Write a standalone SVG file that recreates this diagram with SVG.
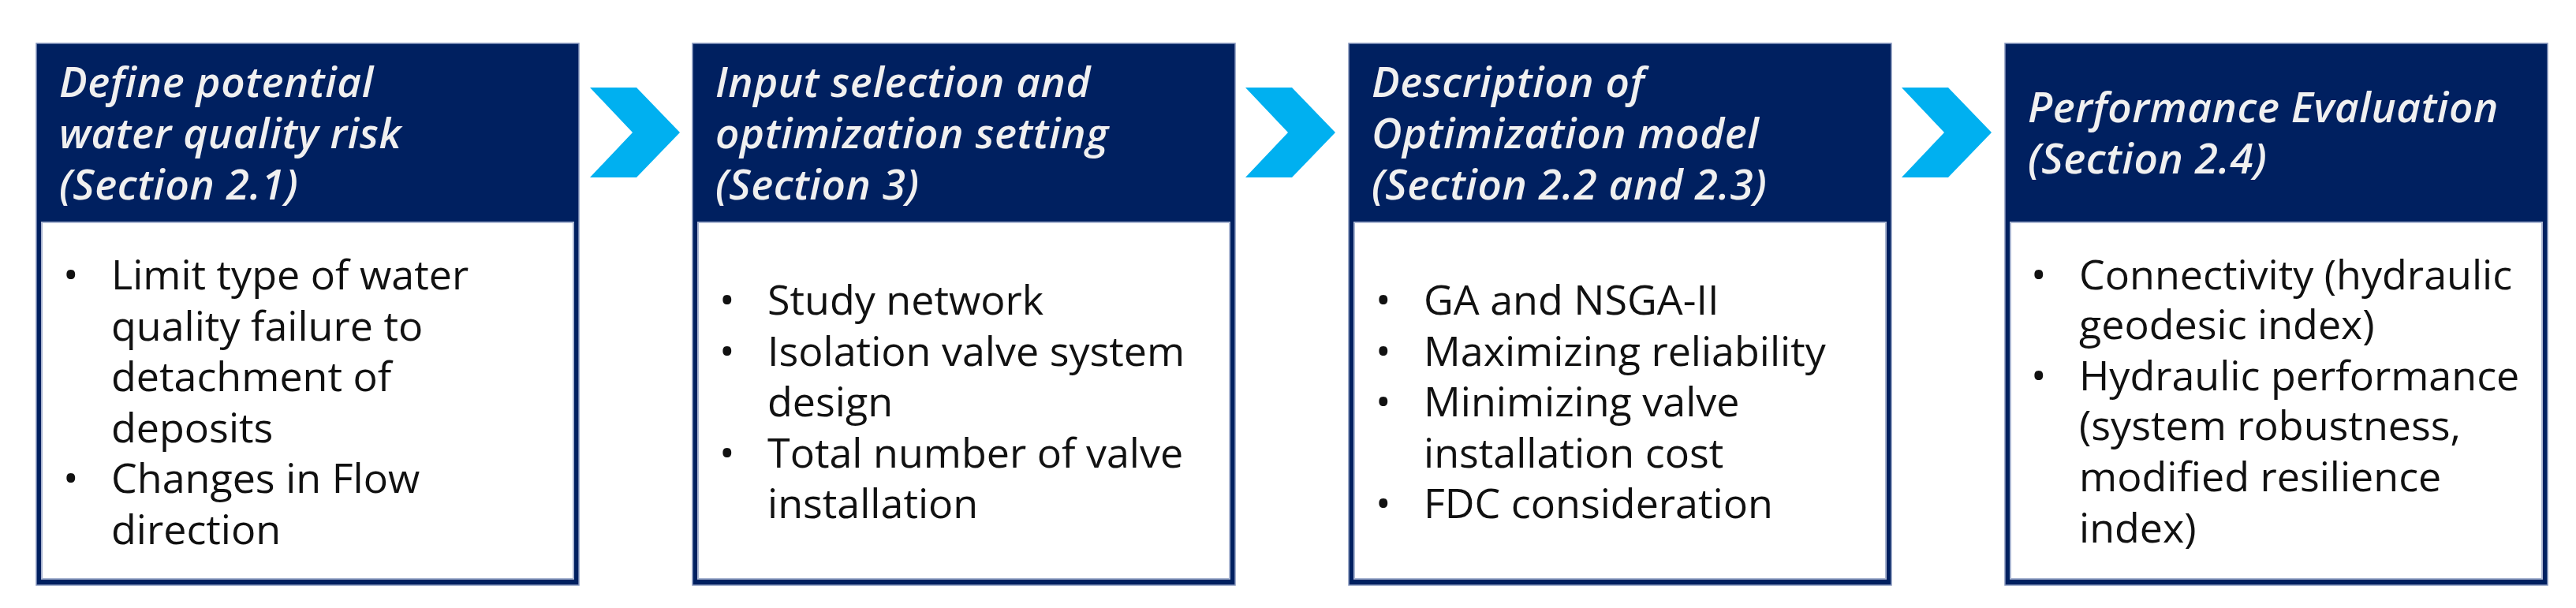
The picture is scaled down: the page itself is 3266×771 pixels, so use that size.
<svg xmlns="http://www.w3.org/2000/svg" width="3266" height="771" viewBox="0 0 3266 771">
<style>
.box{fill:#002060;stroke:#8696bd;stroke-width:1.5}
.body{fill:#ffffff;stroke:#a9b5d1;stroke-width:2}
.hd{font-family:"Open Sans","Noto Sans",sans-serif;font-style:italic;font-weight:600;font-size:53px;letter-spacing:0.6px;fill:#f0f0f0}
.tx{font-family:"Open Sans","Noto Sans",sans-serif;font-size:52px;fill:#111111}
.chev{fill:#00b0f0}
</style>
<rect width="3266" height="771" fill="#ffffff"/>
<g id="connectors">
<polygon class="chev" points="748,111 807,111 862,168 807,225 748,225 802,168"/>
<polygon class="chev" points="1579,111 1638,111 1693,168 1638,225 1579,225 1633,168"/>
<polygon class="chev" points="2411,111 2470,111 2525,168 2470,225 2411,225 2465,168"/>
</g>
<g id="node1">
<rect class="box" x="46" y="55" width="688" height="687"/>
<rect class="body" x="53" y="282" width="674" height="452"/>
<text class="hd" x="75" y="123">Define potential</text>
<text class="hd" x="75" y="188">water quality risk</text>
<text class="hd" x="75" y="253">(Section 2.1)</text>
<text class="tx" x="80" y="367">•</text>
<text class="tx" x="141" y="367">Limit type of water</text>
<text class="tx" x="141" y="432">quality failure to</text>
<text class="tx" x="141" y="496">detachment of</text>
<text class="tx" x="141" y="561">deposits</text>
<text class="tx" x="80" y="625">•</text>
<text class="tx" x="141" y="625">Changes in Flow</text>
<text class="tx" x="141" y="690">direction</text>
</g>
<g id="node2">
<rect class="box" x="878" y="55" width="688" height="687"/>
<rect class="body" x="885" y="282" width="674" height="452"/>
<text class="hd" x="907" y="123">Input selection and</text>
<text class="hd" x="907" y="188">optimization setting</text>
<text class="hd" x="907" y="253">(Section 3)</text>
<text class="tx" x="912" y="399">•</text>
<text class="tx" x="973" y="399">Study network</text>
<text class="tx" x="912" y="464">•</text>
<text class="tx" x="973" y="464">Isolation valve system</text>
<text class="tx" x="973" y="528">design</text>
<text class="tx" x="912" y="593">•</text>
<text class="tx" x="973" y="593">Total number of valve</text>
<text class="tx" x="973" y="657">installation</text>
</g>
<g id="node3">
<rect class="box" x="1710" y="55" width="688" height="687"/>
<rect class="body" x="1717" y="282" width="674" height="452"/>
<text class="hd" x="1739" y="123">Description of</text>
<text class="hd" x="1739" y="188">Optimization model</text>
<text class="hd" x="1739" y="253">(Section 2.2 and 2.3)</text>
<text class="tx" x="1744" y="399">•</text>
<text class="tx" x="1805" y="399">GA and NSGA-II</text>
<text class="tx" x="1744" y="464">•</text>
<text class="tx" x="1805" y="464">Maximizing reliability</text>
<text class="tx" x="1744" y="528">•</text>
<text class="tx" x="1805" y="528">Minimizing valve</text>
<text class="tx" x="1805" y="593">installation cost</text>
<text class="tx" x="1744" y="657">•</text>
<text class="tx" x="1805" y="657">FDC consideration</text>
</g>
<g id="node4">
<rect class="box" x="2542" y="55" width="688" height="687"/>
<rect class="body" x="2549" y="282" width="674" height="452"/>
<text class="hd" x="2571" y="155">Performance Evaluation</text>
<text class="hd" x="2571" y="220">(Section 2.4)</text>
<text class="tx" x="2575" y="367">•</text>
<text class="tx" x="2636" y="367">Connectivity (hydraulic</text>
<text class="tx" x="2636" y="430">geodesic index)</text>
<text class="tx" x="2575" y="495">•</text>
<text class="tx" x="2636" y="495">Hydraulic performance</text>
<text class="tx" x="2636" y="558">(system robustness,</text>
<text class="tx" x="2636" y="623">modified resilience</text>
<text class="tx" x="2636" y="688">index)</text>
</g>
</svg>
